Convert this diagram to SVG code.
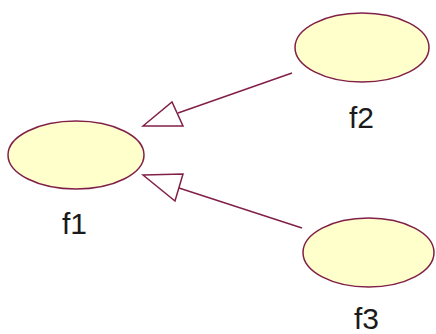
<svg xmlns="http://www.w3.org/2000/svg" width="436" height="334" viewBox="0 0 436 334">
<style>
.node ellipse{fill:#ffffcc;stroke:#802048;stroke-width:1.5}
.lbl{font-family:"Liberation Sans",Arial,sans-serif;font-size:30px;fill:#1a1a1a}
.edge line{stroke:#802048;stroke-width:1.5}
.edge polygon{fill:#ffffff;stroke:#802048;stroke-width:1.5;stroke-linejoin:miter}
</style>
<rect width="436" height="334" fill="#ffffff"/>
<g id="connectors" class="edge">
<line x1="292" y1="73" x2="178" y2="113"/>
<polygon points="143,126 172,102 183,126"/>
<line x1="302" y1="228" x2="179" y2="188"/>
<polygon points="143,175 183,174 175,201"/>
</g>
<g id="f1" class="node">
<ellipse cx="76" cy="155" rx="68" ry="34"/>
<text class="lbl" x="62" y="234">f1</text>
</g>
<g id="f2" class="node">
<ellipse cx="362" cy="47.5" rx="67" ry="34.5"/>
<text class="lbl" x="349" y="128">f2</text>
</g>
<g id="f3" class="node">
<ellipse cx="368.5" cy="252.5" rx="65.5" ry="34.5"/>
<text class="lbl" x="354" y="329">f3</text>
</g>
</svg>
